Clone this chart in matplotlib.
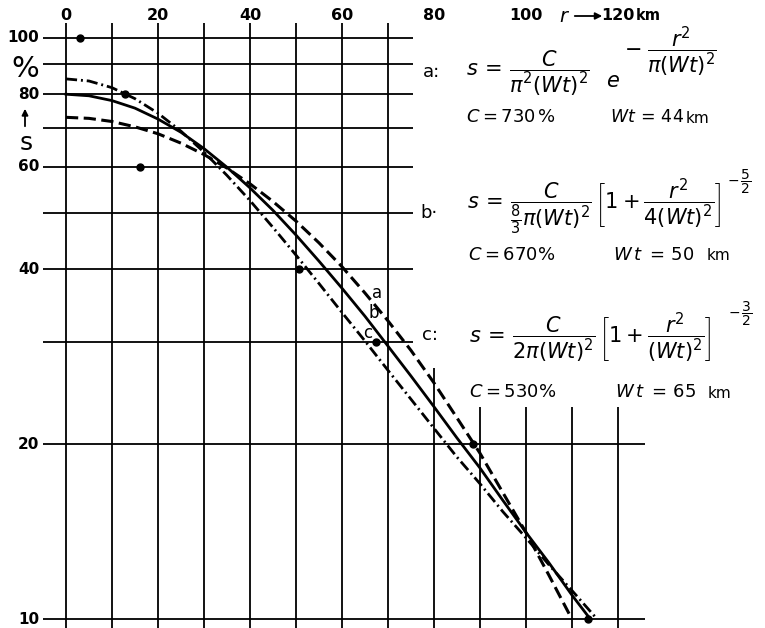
import matplotlib
matplotlib.use("Agg")
import matplotlib.pyplot as plt

plt.rcParams["mathtext.fontset"] = "custom"
plt.rcParams["mathtext.rm"] = "DejaVu Sans"
plt.rcParams["mathtext.it"] = "DejaVu Sans:italic"
plt.rcParams["mathtext.bf"] = "DejaVu Sans:bold"

# ---------------------------- data ----------------------------
r_a = [0, 5, 10, 15, 20, 25, 30, 35, 40, 45, 50, 55, 60, 65, 70, 75, 80, 85, 90, 95, 100, 105, 110]
s_a = [73.0, 72.7, 71.8, 70.3, 68.4, 65.9, 63.0, 59.7, 56.1, 52.3, 48.4, 44.4, 40.4, 36.4,
       32.6, 29.0, 25.5, 22.2, 19.3, 16.5, 14.1, 11.9, 10.0]

r_b = [0, 5, 10, 15, 20, 25, 30, 35, 40, 45, 50, 55, 60, 65, 70, 75, 80, 85, 90, 95, 100, 105, 110, 114]
s_b = [80.0, 79.5, 78.0, 75.7, 72.5, 68.8, 64.5, 59.9, 55.2, 50.5, 45.8, 41.3, 37.1, 33.2,
       29.5, 26.2, 23.2, 20.5, 18.2, 16.0, 14.1, 12.5, 11.0, 10.0]

r_c = [0, 5, 10, 15, 20, 25, 30, 35, 40, 45, 50, 55, 60, 65, 70, 75, 80, 85, 90, 95, 100, 105, 110, 115]
s_c = [85.0, 84.3, 82.1, 78.6, 74.2, 69.1, 63.6, 58.0, 52.5, 47.2, 42.3, 37.8, 33.7, 30.1,
       26.8, 23.9, 21.3, 19.0, 17.1, 15.3, 13.8, 12.4, 11.2, 10.1]

# measured points
r_pts = [3.0, 12.8, 16.1, 50.7, 67.4, 88.5, 113.5]
s_pts = [100, 80, 60, 40, 30, 20, 10]

x_ticks = [0, 20, 40, 60, 80, 100, 120]
x_grid = [0, 10, 20, 30, 40, 50, 60, 70, 80, 90, 100, 110, 120]
y_ticks = [100, 80, 60, 40, 20, 10]
y_grid_upper = [100, 90, 80, 70, 60, 50, 40, 30]
y_grid_lower = [20, 10]

# ---------------------------- figure -------------------------------------------------
W, H = 765, 628
fig = plt.figure(figsize=(W / 100, H / 100), dpi=100)
ax = fig.add_axes([0, 0, 1, 1])
ax.set_yscale("log")
ax.set_xlim(-14.35, 152.0)
ax.set_ylim(9.65, 116.2)
ax.axis("off")


def fp(x, y):
    # pixel position -> figure fraction
    return x / W, 1 - y / H


gkw = dict(color="black", lw=1.3)
# horizontal grid lines
ax.hlines(y_grid_upper, -5, 75.5, **gkw)
ax.hlines(y_grid_lower, -5, 126, **gkw)
# vertical grid lines, the right ones stop below the formulas
for x in x_grid:
    if x <= 70:
        top = 106
    elif x == 80:
        top = 27.0
    else:
        top = 23.2
    ax.vlines(x, 9.65, top, **gkw)

# curves
ax.plot(r_a, s_a, color="black", lw=2.2, linestyle=(0, (4, 1.8)))
ax.plot(r_b, s_b, color="black", lw=2.0, linestyle="-")
ax.plot(r_c, s_c, color="black", lw=2.0, linestyle=(0, (4, 1.4, 0.7, 1.4)))
ax.plot(r_pts, s_pts, "o", color="black", markersize=5)

# top axis labels
tkw = dict(fontsize=11.5, fontweight="bold", ha="center", va="center")
for x in x_ticks:
    ax.text(x, 10 ** (2.06521 - 16 / 581.1), str(x), **tkw)
fig.text(*fp(565, 16), r"$r$", fontsize=14, ha="center", va="center")
ax.annotate("", xy=fp(605, 16), xytext=fp(572, 16), xycoords="figure fraction",
            arrowprops=dict(arrowstyle="-|>", color="black", lw=1.3, mutation_scale=10))
fig.text(*fp(636, 16), "km", fontsize=10.5, fontweight="bold", ha="left", va="center")

# left axis labels
for y in y_ticks:
    ax.text(-5.8, y, str(y), fontsize=11, fontweight="bold", ha="right", va="center")
fig.text(*fp(25, 69), "%", fontsize=21, ha="center", va="center")
ax.annotate("", xy=fp(25, 106), xytext=fp(25, 129), xycoords="figure fraction",
            arrowprops=dict(arrowstyle="-|>", color="black", lw=1.3, mutation_scale=9))
fig.text(*fp(26, 143), "s", fontsize=18, ha="center", va="center")

# curve labels
lkw = dict(fontsize=12, ha="center", va="center")
fig.text(*fp(377, 293), "a", **lkw)
fig.text(*fp(374, 313), "b", **lkw)
fig.text(*fp(368, 333), "c", **lkw)

# formulas
fs = 15
fkw = dict(fontsize=fs, ha="left", va="center")
nkw = dict(fontsize=13, ha="left", va="center")
kkw = dict(fontsize=11, ha="left", va="center")

fig.text(*fp(423, 72), "a:", fontsize=13, va="center")
fig.text(*fp(466, 73), r"$s\, =\, \dfrac{C}{\pi^2(Wt)^2}$", **fkw)
fig.text(*fp(606, 81), r"$e$", **fkw)
fig.text(*fp(624, 52), r"$-\;\dfrac{r^2}{\pi(Wt)^2}$", **fkw)
fig.text(*fp(466, 117), r"$C = \mathit{730}\,\%$", **nkw)
fig.text(*fp(610, 117), r"$Wt\,{=}\,\mathit{44}$", fontsize=12.5, ha="left", va="center")
fig.text(*fp(686, 118), "km", **kkw)

fig.text(*fp(420, 213), "b·", fontsize=13, va="center")
fig.text(*fp(467, 207),
         r"$s\, =\, \dfrac{C}{\frac{8}{3}\pi(Wt)^2}\,\left[1+\dfrac{r^2}{4(Wt)^2}\right]$", **fkw)
fig.text(*fp(727, 182), r"$-\,\dfrac{5}{2}$", fontsize=10, ha="left", va="center")
fig.text(*fp(468, 255), r"$C = \mathit{670}\%$", **nkw)
fig.text(*fp(613, 255), r"$W\,t\;{=}\,\mathit{50}$", **nkw)
fig.text(*fp(707, 256), "km", **kkw)

fig.text(*fp(422, 335), "c:", fontsize=13, va="center")
fig.text(*fp(469, 338),
         r"$s\, =\, \dfrac{C}{2\pi(Wt)^2}\,\left[1+\dfrac{r^2}{(Wt)^2}\right]$", **fkw)
fig.text(*fp(728, 314), r"$-\,\dfrac{3}{2}$", fontsize=10, ha="left", va="center")
fig.text(*fp(469, 392), r"$C = \mathit{530}\%$", **nkw)
fig.text(*fp(615, 392), r"$W\,t\;{=}\,\mathit{65}$", **nkw)
fig.text(*fp(708, 393), "km", **kkw)

fig.savefig("out.png", dpi=100)
